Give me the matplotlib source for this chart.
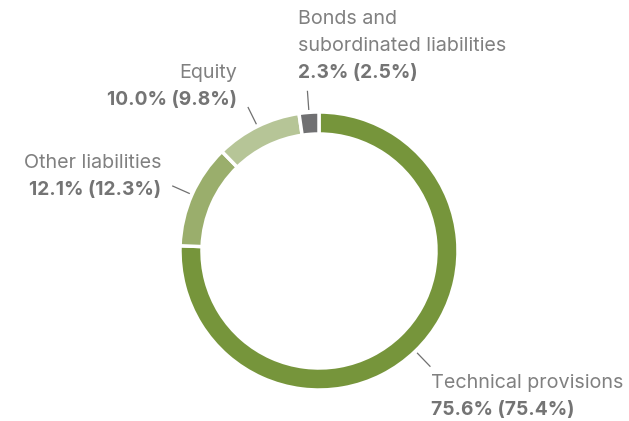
import numpy as np
import matplotlib.pyplot as plt

labels = ["Technical provisions", "Other liabilities", "Equity", "Bonds and\nsubordinated liabilities"]
shares = [75.6, 12.1, 10.0, 2.3]
prior = [75.4, 12.3, 9.8, 2.5]
colors = ["#76953b", "#9aae6c", "#b6c597", "#707072"]

# label anchor (x, y of value line, alignment) in pixel coords
label_pos = [(431, 410, "left"), (161, 190, "right"), (237, 100, "right"), (298, 73, "left")]

plt.rcParams['font.family'] = ['Inter', 'DejaVu Sans']

fig = plt.figure(figsize=(6.29, 4.21), dpi=100)
ax = fig.add_axes([0, 0, 1, 1])

cx, cy, R = 319, 251, 139
wedges, _ = ax.pie(shares, colors=colors, startangle=-90, counterclock=True,
                   center=(cx, cy), radius=R, frame=True,
                   wedgeprops=dict(width=22, edgecolor='white', linewidth=2.5))
ax.set_xlim(0, 629)
ax.set_ylim(421, 0)
ax.set_aspect('equal')
ax.axis('off')

for w, lab, s, p, (tx, ty, ha) in zip(wedges, labels, shares, prior, label_pos):
    mid = np.deg2rad((w.theta1 + w.theta2) / 2)
    r1, r2 = R + 3, R + 21
    ax.plot([cx + r1 * np.cos(mid), cx + r2 * np.cos(mid)],
            [cy + r1 * np.sin(mid), cy + r2 * np.sin(mid)],
            color='#707070', lw=0.9)
    ax.text(tx, ty, f"{s:.1f}% ({p:.1f}%)", ha=ha, va='center',
            fontsize=13.8, fontweight='bold', color='#747474')
    lines = lab.split('\n')
    for k, line in enumerate(reversed(lines)):
        ax.text(tx, ty - 27 * (k + 1), line, ha=ha, va='center',
                fontsize=14.2, color='#808080')

fig.savefig('out.png', dpi=100)
